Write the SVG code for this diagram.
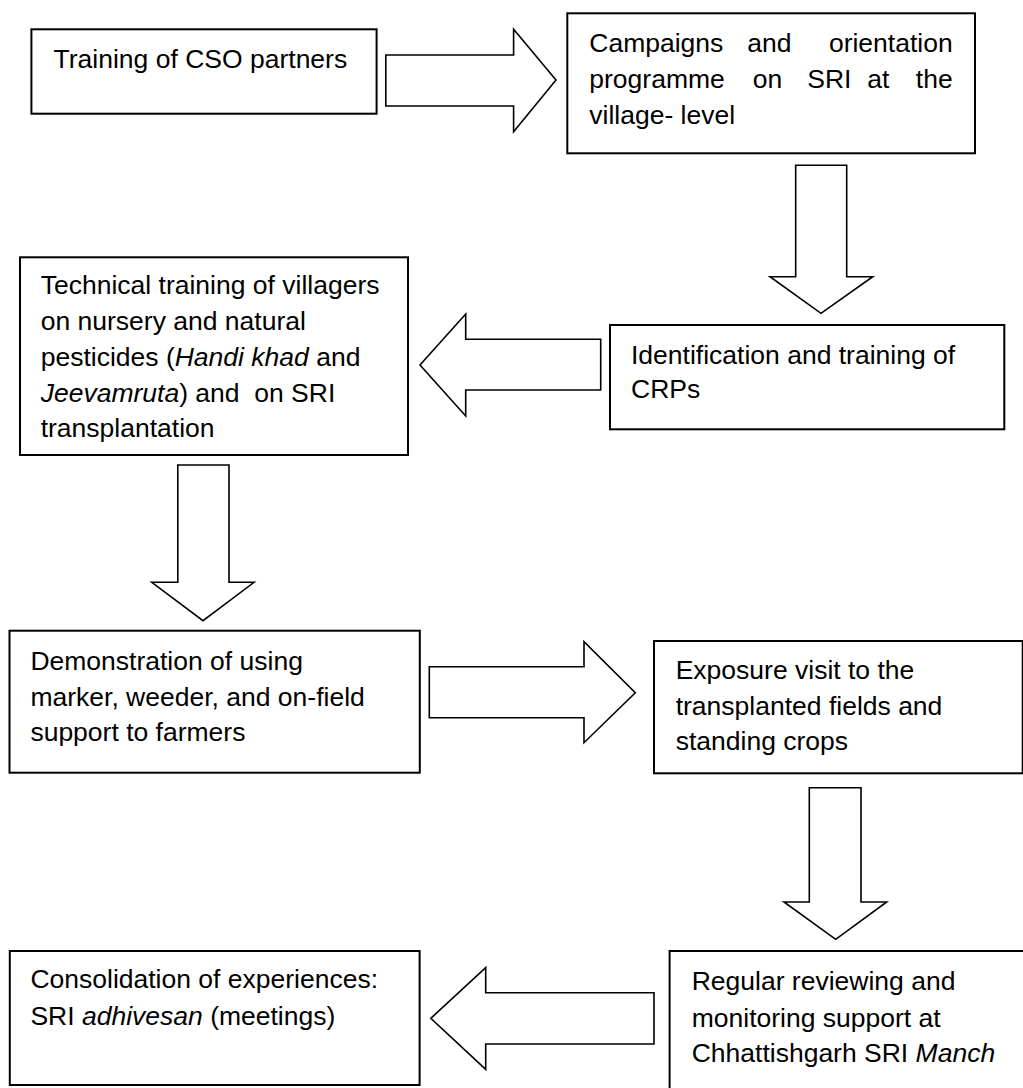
<svg xmlns="http://www.w3.org/2000/svg" width="1023" height="1088" viewBox="0 0 1023 1088">
<style>
  .box { fill: #ffffff; stroke: #000000; stroke-width: 2; }
  .arrow { fill: #ffffff; stroke: #000000; stroke-width: 1.6; stroke-linejoin: miter; }
  text { font-family: "Liberation Sans", Arial, sans-serif; font-size: 26.5px; fill: #000000; white-space: pre; }
  .it { font-style: italic; }
  .end { text-anchor: end; }
</style>
<rect width="1023" height="1088" fill="#ffffff"/>

<g id="connectors">
  <polygon class="arrow" points="385.8,55 513.6,55 513.6,29.3 556,80 513.6,131.7 513.6,106 385.8,106"/>
  <polygon class="arrow" points="795.7,165.3 846.7,165.3 846.7,276.7 872.7,276.7 821,313.3 770,276.7 795.7,276.7"/>
  <polygon class="arrow" points="600.7,339.3 465.7,339.3 465.7,314 420,365 465.7,416 465.7,390 600.7,390"/>
  <polygon class="arrow" points="177.8,465 229,465 229,582.3 254.1,582.3 203,620.7 151.8,582.3 177.8,582.3"/>
  <polygon class="arrow" points="429.3,666.7 584,666.7 584,641.7 635.3,692.7 584,742.7 584,717.7 429.3,717.7"/>
  <polygon class="arrow" points="809.3,787.7 861,787.7 861,902 886.7,902 835.7,939.3 784,902 809.3,902"/>
  <polygon class="arrow" points="654,992.7 485.7,992.7 485.7,967.7 430.8,1018.3 485.7,1069.3 485.7,1044 654,1044"/>
</g>

<g id="node-training-cso">
  <rect class="box" x="31.4" y="29.3" width="345.2" height="84.4"/>
  <text x="53.6" y="68.3">Training of CSO partners</text>
</g>

<g id="node-campaigns">
  <rect class="box" x="567.3" y="13.3" width="407.7" height="140"/>
  <text x="589.3" y="51.7">Campaigns</text>
  <text x="747.3" y="51.7">and</text>
  <text class="end" x="952.7" y="51.7">orientation</text>
  <text x="589.3" y="88.3">programme</text>
  <text x="752.7" y="88.3">on</text>
  <text x="807.3" y="88.3">SRI</text>
  <text x="867.3" y="88.3">at</text>
  <text class="end" x="952.7" y="88.3">the</text>
  <text x="589.3" y="124">village- level</text>
</g>

<g id="node-identification">
  <rect class="box" x="610" y="325" width="394.3" height="104.3"/>
  <text x="631" y="364">Identification and training of</text>
  <text x="631" y="398.3">CRPs</text>
</g>

<g id="node-technical">
  <rect class="box" x="20" y="257.3" width="388" height="197.7"/>
  <text x="40.7" y="294">Technical training of villagers</text>
  <text x="40.7" y="330">on nursery and natural</text>
  <text x="40.7" y="366">pesticides (<tspan class="it">Handi khad</tspan> and</text>
  <text x="40.7" y="401.6"><tspan class="it">Jeevamruta</tspan>) and  on SRI</text>
  <text x="40.7" y="437.3">transplantation</text>
</g>

<g id="node-demonstration">
  <rect class="box" x="9.5" y="630.7" width="410.3" height="142"/>
  <text x="30.4" y="670">Demonstration of using</text>
  <text x="30.4" y="706">marker, weeder, and on-field</text>
  <text x="30.4" y="740.7">support to farmers</text>
</g>

<g id="node-exposure">
  <rect class="box" x="654" y="641" width="368.7" height="132.3"/>
  <text x="675.7" y="679.3">Exposure visit to the</text>
  <text x="675.7" y="715">transplanted fields and</text>
  <text x="675.7" y="750">standing crops</text>
</g>

<g id="node-reviewing">
  <rect class="box" x="669.6" y="951" width="380" height="160"/>
  <text x="691.7" y="990">Regular reviewing and</text>
  <text x="691.7" y="1026.7">monitoring support at</text>
  <text x="691.7" y="1061.7">Chhattishgarh SRI <tspan class="it">Manch</tspan></text>
</g>

<g id="node-consolidation">
  <rect class="box" x="9.8" y="951" width="409.8" height="134"/>
  <text x="30.4" y="988.3">Consolidation of experiences:</text>
  <text x="30.4" y="1025">SRI <tspan class="it">adhivesan</tspan> (meetings)</text>
</g>
</svg>
